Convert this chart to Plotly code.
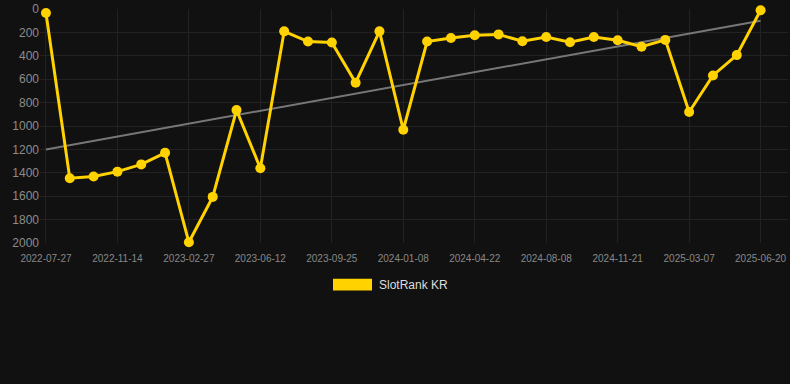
import plotly.graph_objects as go

dates = ["2022-07-27", "2022-08-31", "2022-10-05", "2022-11-14", "2022-12-19", "2023-01-23",
         "2023-02-27", "2023-04-03", "2023-05-08", "2023-06-12", "2023-07-17", "2023-08-21",
         "2023-09-25", "2023-10-30", "2023-12-04", "2024-01-08", "2024-02-12", "2024-03-18",
         "2024-04-22", "2024-05-27", "2024-07-01", "2024-08-08", "2024-09-12", "2024-10-17",
         "2024-11-21", "2024-12-26", "2025-01-30", "2025-03-07", "2025-04-11", "2025-05-16",
         "2025-06-20"]
ranks = [34, 1446, 1432, 1390, 1328, 1229, 1994, 1606, 864, 1361, 191, 278, 287, 630, 191,
         1032, 278, 248, 225, 217, 276, 239, 284, 239, 267, 323, 264, 880, 568, 394, 11]
trend_x = [dates[0], dates[-1]]
trend_y = [1200, 100]
tick_labels = dates[::3]
y_ticks = [0, 200, 400, 600, 800, 1000, 1200, 1400, 1600, 1800, 2000]
series_name = "SlotRank KR"

gold = "#FFD200"
W, H = 790, 384
ML, MR, MT, MB = 40, 2, 7, 141
plot_w = W - ML - MR
plot_h = H - MT - MB


def px_to_paper_x(px):
    return (px - ML) / plot_w


def px_to_paper_y(py):
    return (H - MB - py) / plot_h


fig = go.Figure()
fig.add_trace(go.Scatter(x=trend_x, y=trend_y, mode="lines",
                         line=dict(color="#777777", width=2), showlegend=False,
                         hoverinfo="skip"))
fig.add_trace(go.Scatter(x=dates, y=ranks, mode="lines+markers", name=series_name,
                         line=dict(color=gold, width=3),
                         marker=dict(color=gold, size=10),
                         cliponaxis=False, showlegend=False))

fig.update_layout(
    width=W, height=H,
    paper_bgcolor="#111111", plot_bgcolor="#111111",
    margin=dict(l=ML, r=MR, t=MT, b=MB),
    font=dict(family="Liberation Sans, Arial, sans-serif", color="#999999"),
    xaxis=dict(type="category", categoryorder="array", categoryarray=dates,
               range=[-0.25, 31.15],
               tickmode="array", tickvals=tick_labels, ticktext=tick_labels,
               tickfont=dict(size=10, color="#888888"),
               ticklabelstandoff=8,
               showgrid=True, gridcolor="#222222", gridwidth=1,
               zeroline=False, showline=False, ticks="", ticklen=0),
    yaxis=dict(autorange=False, range=[2000, 0],
               tickmode="array", tickvals=y_ticks,
               tickfont=dict(size=12, color="#8c8c8c"),
               showgrid=True, gridcolor="#222222", gridwidth=1,
               zeroline=False, showline=False, ticks="", ticklen=0),
    shapes=[dict(type="rect", xref="paper", yref="paper",
                 x0=px_to_paper_x(333), x1=px_to_paper_x(372),
                 y0=px_to_paper_y(291), y1=px_to_paper_y(279),
                 fillcolor=gold, line=dict(width=0))],
    showlegend=False,
)

fig.add_annotation(xref="paper", yref="paper", x=px_to_paper_x(377), y=px_to_paper_y(285),
                   text=series_name, showarrow=False, xanchor="left", yanchor="middle",
                   font=dict(size=12, color="#dddddd"))

fig.write_html("out.html", config={"displayModeBar": False},
               post_script="document.body.style.margin='0';document.body.style.background='#111111';")
